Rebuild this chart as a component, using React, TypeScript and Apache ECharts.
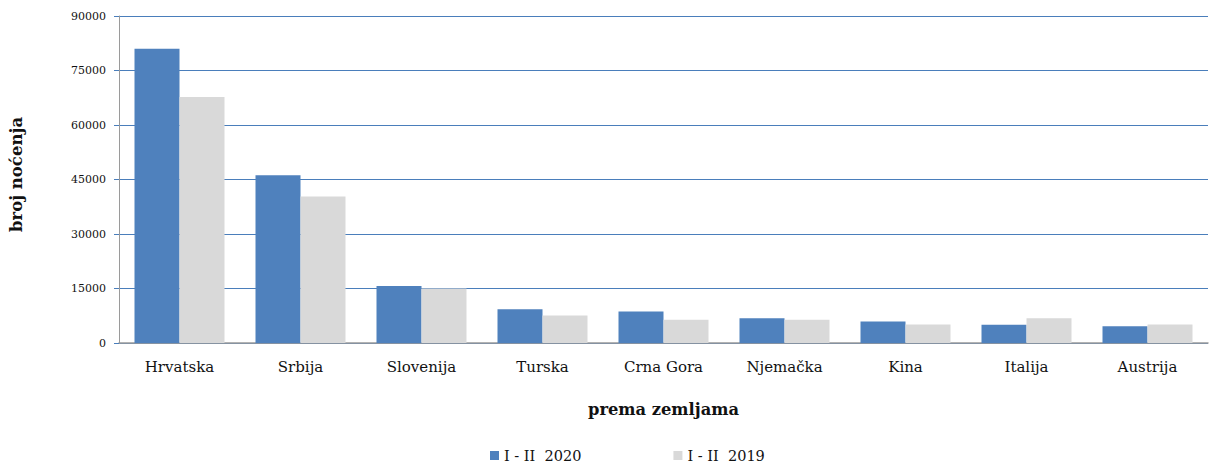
import React, { useEffect, useRef } from "react";
import * as echarts from "echarts";

const categories = ["Hrvatska", "Srbija", "Slovenija", "Turska", "Crna Gora", "Njemačka", "Kina", "Italija", "Austrija"];
const values2020 = [81000, 46200, 15700, 9300, 8700, 6800, 5900, 5000, 4600];
const values2019 = [67700, 40300, 15000, 7600, 6400, 6400, 5100, 6800, 5100];
const seriesNames = ["I - II  2020", "I - II  2019"];

const FONT = "DejaVu Serif";

export default function App() {
  const ref = useRef<HTMLDivElement>(null);
  useEffect(() => {
    if (!ref.current) return;
    const chart = echarts.init(ref.current, null, { renderer: "svg" });
    chart.setOption({
      animation: false,
      textStyle: { fontFamily: FONT },
      grid: { left: 118, right: 1, top: 16, bottom: 123 },
      legend: {
        top: 448,
        left: 490,
        padding: 0,
        itemWidth: 9,
        itemHeight: 9,
        itemGap: 92,
        icon: "rect",
        textStyle: { fontFamily: FONT, fontSize: 14.5, color: "#111" },
        data: seriesNames,
      },
      xAxis: {
        type: "category",
        data: categories,
        name: "prema zemljama",
        nameLocation: "middle",
        nameGap: 58,
        nameTextStyle: { fontFamily: FONT, fontSize: 16.3, fontWeight: "bold", color: "#111" },
        axisLine: { lineStyle: { color: "#9a9a9a", width: 1.5 } },
        axisTick: { show: false },
        axisLabel: { fontFamily: FONT, fontSize: 15, color: "#111", margin: 16 },
      },
      yAxis: {
        type: "value",
        min: 0,
        max: 90000,
        interval: 15000,
        name: "broj noćenja",
        nameLocation: "middle",
        nameGap: 94,
        nameTextStyle: { fontFamily: FONT, fontSize: 16.5, fontWeight: "bold", color: "#111", padding: [0, 0, 0, 10] },
        axisLine: { show: true, lineStyle: { color: "#9a9a9a", width: 1 } },
        axisTick: { show: true, length: 5, lineStyle: { color: "#4a7ebb" } },
        axisLabel: { fontFamily: FONT, fontSize: 11, color: "#111", margin: 13, formatter: (v: number) => String(v) },
        splitLine: { lineStyle: { color: "#4a7ebb", width: 1 } },
      },
      series: [
        {
          name: seriesNames[0],
          type: "bar",
          data: values2020,
          barWidth: 45,
          barGap: "0%",
          itemStyle: { color: "#4F81BD" },
        },
        {
          name: seriesNames[1],
          type: "bar",
          data: values2019,
          barWidth: 45,
          barGap: "0%",
          itemStyle: { color: "#D9D9D9" },
        },
      ],
    });
    return () => chart.dispose();
  }, []);
  return <div ref={ref} style={{ width: 1209, height: 466, position: "absolute", left: 0, top: 0 }} />;
}
